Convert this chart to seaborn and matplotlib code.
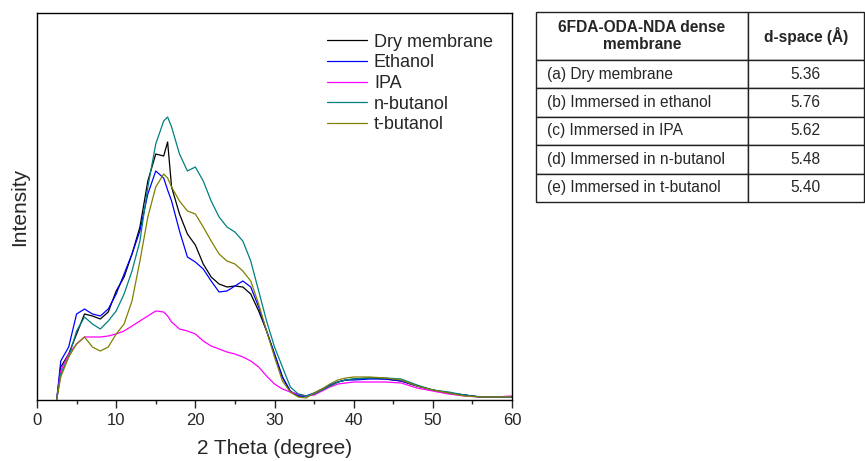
import numpy as np
import pandas as pd
import matplotlib
matplotlib.use("Agg")
import matplotlib.pyplot as plt
import seaborn as sns
from matplotlib.ticker import MultipleLocator

theta = [2.5, 3, 4, 5, 6, 7, 8, 9, 10, 11, 12, 13, 14, 15, 16, 16.5, 17, 18, 19, 20,
         21, 22, 23, 24, 25, 26, 27, 28, 29, 30, 31, 32, 33, 34, 35, 36, 37, 38, 39, 40,
         42, 44, 46, 48, 50, 52, 54, 56, 58, 60]

dry = [1, 33, 46, 66, 86, 84, 81, 88, 109, 123, 146, 173, 219, 246, 244, 258, 213, 186, 166, 155,
       136, 123, 116, 113, 114, 113, 106, 89, 69, 46, 23, 8, 4, 4, 6, 10, 14, 18, 20, 21,
       22, 21, 19, 14, 10, 7, 5, 3, 3, 3]
ethanol = [1, 39, 53, 86, 91, 86, 84, 91, 106, 126, 146, 169, 206, 229, 222, 210, 199, 169, 143, 138,
           131, 119, 108, 109, 114, 119, 113, 93, 69, 46, 23, 9, 4, 4, 7, 11, 15, 18, 20, 20,
           21, 21, 19, 14, 10, 7, 5, 3, 3, 3]
ipa = [1, 29, 46, 56, 63, 63, 63, 64, 66, 69, 74, 79, 84, 89, 88, 84, 78, 71, 69, 66,
       59, 54, 51, 48, 46, 43, 39, 33, 24, 16, 11, 8, 6, 4, 5, 9, 13, 16, 17, 18,
       18, 18, 17, 12, 9, 6, 4, 3, 3, 4]
n_butanol = [1, 26, 43, 69, 83, 76, 71, 79, 89, 106, 129, 159, 213, 256, 279, 283, 273, 246, 229, 233,
             219, 199, 183, 173, 168, 159, 139, 109, 79, 53, 33, 13, 6, 4, 6, 10, 14, 18, 20, 21,
             22, 22, 21, 15, 10, 8, 5, 3, 3, 3]
t_butanol = [1, 23, 43, 56, 63, 53, 49, 53, 66, 76, 99, 139, 183, 213, 226, 222, 213, 199, 189, 186,
             173, 159, 146, 139, 136, 129, 119, 96, 69, 43, 19, 8, 3, 2, 7, 11, 16, 20, 22, 23,
             23, 22, 20, 14, 10, 7, 4, 3, 3, 3]

series = ["Dry membrane", "Ethanol", "IPA", "n-butanol", "t-butanol"]
colors = ["#000000", "#0000ff", "#ff00ff", "#008080", "#808000"]

table_header = ["6FDA-ODA-NDA dense\nmembrane", "d-space (Å)"]
table_samples = ["(a) Dry membrane", "(b) Immersed in ethanol", "(c) Immersed in IPA",
                 "(d) Immersed in n-butanol", "(e) Immersed in t-butanol"]
table_dspace = ["5.36", "5.76", "5.62", "5.48", "5.40"]

df = pd.concat([
    pd.DataFrame({"theta": theta, "intensity": vals, "sample": name})
    for name, vals in zip(series, [dry, ethanol, ipa, n_butanol, t_butanol])
])

sns.set_style("ticks")
plt.rcParams["font.family"] = ["Liberation Sans", "DejaVu Sans"]

fig = plt.figure(figsize=(8.65, 4.61), dpi=100)
ax = fig.add_axes([37 / 865, 61 / 461, 475 / 865, 387 / 461])

sns.lineplot(data=df, x="theta", y="intensity", hue="sample", hue_order=series,
             palette=colors, estimator=None, linewidth=0.9, ax=ax)

ax.set_xlim(0, 60)
ax.set_ylim(0, 387)
ax.set_xticks(range(0, 61, 10))
ax.xaxis.set_minor_locator(MultipleLocator(5))
ax.set_yticks([])
ax.tick_params(axis="x", which="major", direction="out", length=6, width=1, labelsize=12)
ax.tick_params(axis="x", which="minor", direction="out", length=3, width=1)
for sp in ax.spines.values():
    sp.set_visible(True)
    sp.set_color("black")
    sp.set_linewidth(1)
ax.set_xlabel("2 Theta (degree)", fontsize=15, labelpad=8)
ax.set_ylabel("Intensity", fontsize=15, labelpad=6)

handles, labels = ax.get_legend_handles_labels()
ax.legend(handles, labels, loc="upper right", bbox_to_anchor=(0.975, 0.965), frameon=False,
          fontsize=13, handlelength=2.2, handletextpad=0.4, labelspacing=0.2, borderaxespad=0)

# table on the right
tax = fig.add_axes([536 / 865, 259 / 461, 328 / 865, 190 / 461])
tax.axis("off")
cell_text = [[s, d] for s, d in zip(table_samples, table_dspace)]
tbl = tax.table(cellText=cell_text, colLabels=table_header, colWidths=[0.645, 0.355],
                bbox=[0, 0, 1, 1])
tbl.auto_set_font_size(False)
tbl.set_fontsize(11.2)
for (r, c), cell in tbl.get_celld().items():
    cell.set_linewidth(1)
    cell.set_edgecolor("#222222")
    txt = cell.get_text()
    if r == 0:
        cell.set_height(48)
        txt.set_fontweight("bold")
        txt.set_ha("center")
        txt.set_multialignment("center")
    else:
        cell.set_height(28.5)
        if c == 0:
            txt.set_ha("left")
            cell.PAD = 0.05
        else:
            txt.set_ha("center")

fig.savefig("out.png", dpi=100)
